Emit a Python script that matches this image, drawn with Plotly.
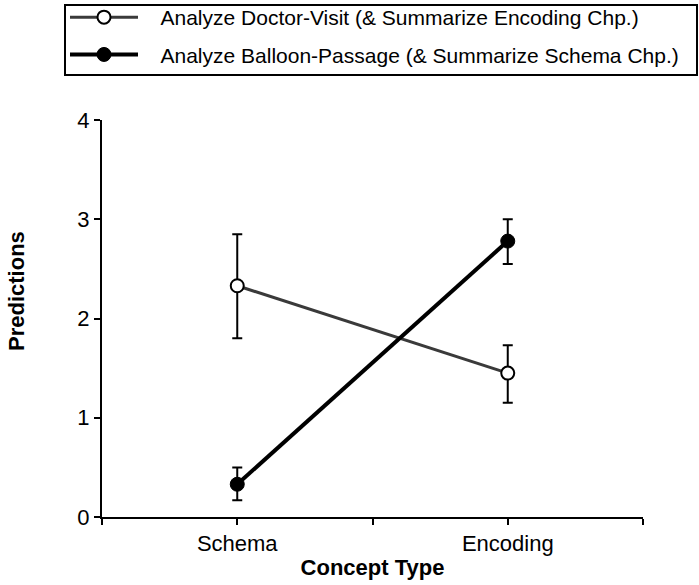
import plotly.graph_objects as go

categories = ["Schema", "Encoding"]
cat_pos = [1, 3]
doctor_vals = [2.33, 1.45]
doctor_err_plus = [0.52, 0.28]
doctor_err_minus = [0.53, 0.30]
balloon_vals = [0.33, 2.78]
balloon_err_plus = [0.17, 0.22]
balloon_err_minus = [0.16, 0.23]
y_ticks = [0, 1, 2, 3, 4]
series_names = ["Analyze Doctor-Visit (& Summarize Encoding Chp.)",
                "Analyze Balloon-Passage (& Summarize Schema Chp.)"]
x_title = "Concept Type"
y_title = "Predictions"

font = "Liberation Sans, Arial, Helvetica, sans-serif"

W, H = 699, 585
ML, MR, MT, MB = 102, 56, 120, 68
PW, PH = W - ML - MR, H - MT - MB

def px_x(p):
    return (p - ML) / PW

def px_y(p):
    return (H - MB - p) / PH

pad = "\u00a0\u00a0\u00a0"

fig = go.Figure()
fig.add_trace(go.Scatter(
    x=cat_pos, y=doctor_vals, mode="lines+markers",
    name=pad + series_names[0],
    legendgroup="a",
    line=dict(color="#3a3a3a", width=3),
    marker=dict(symbol="circle", size=13, color="white", line=dict(color="black", width=2)),
    error_y=dict(type="data", array=doctor_err_plus, arrayminus=doctor_err_minus,
                 color="black", thickness=2, width=5),
))
fig.add_trace(go.Scatter(
    x=cat_pos, y=balloon_vals, mode="lines+markers",
    name=pad + series_names[1],
    legendgroup="b",
    line=dict(color="black", width=4),
    marker=dict(symbol="circle", size=14, color="black", line=dict(color="black", width=1)),
    error_y=dict(type="data", array=balloon_err_plus, arrayminus=balloon_err_minus,
                 color="black", thickness=2, width=5),
))

fig.add_shape(type="rect", xref="paper", yref="paper",
              x0=px_x(65), x1=px_x(697), y0=px_y(75), y1=px_y(5),
              line=dict(color="black", width=2), fillcolor="rgba(0,0,0,0)", layer="above")

fig.add_annotation(text="<b>" + y_title + "</b>", xref="paper", yref="paper",
                   x=px_x(16), y=px_y(291), xanchor="center", yanchor="middle",
                   textangle=-90, showarrow=False, font=dict(size=22, family=font))

fig.update_layout(
    width=W, height=H,
    margin=dict(l=ML, r=MR, t=MT, b=MB, autoexpand=False),
    paper_bgcolor="white", plot_bgcolor="white",
    font=dict(family=font, size=21, color="black"),
    showlegend=True,
    legend=dict(
        x=px_x(65), y=px_y(-3), xanchor="left", yanchor="top",
        borderwidth=0, bgcolor="rgba(0,0,0,0)",
        font=dict(family=font, size=21, color="black"),
        itemwidth=68, traceorder="grouped", tracegroupgap=7,
    ),
    xaxis=dict(
        range=[0, 4], tickvals=[0, 1, 2, 3, 4],
        ticktext=["", categories[0], "", categories[1], ""],
        ticks="outside", ticklen=6, tickwidth=1.5, tickcolor="black",
        showline=True, linecolor="black", linewidth=2,
        showgrid=False, zeroline=False, automargin=False,
        title=dict(text="<b>" + x_title + "</b>", font=dict(size=22), standoff=4),
        tickfont=dict(size=22),
    ),
    yaxis=dict(
        range=[0, 4], tickvals=y_ticks,
        ticks="outside", ticklen=6, tickwidth=1.5, tickcolor="black",
        showline=True, linecolor="black", linewidth=2,
        showgrid=False, zeroline=False, automargin=False,
        tickfont=dict(size=22),
    ),
)

fig.write_html("out.html", config={"displayModeBar": False},
               post_script="document.body.style.margin='0';")
